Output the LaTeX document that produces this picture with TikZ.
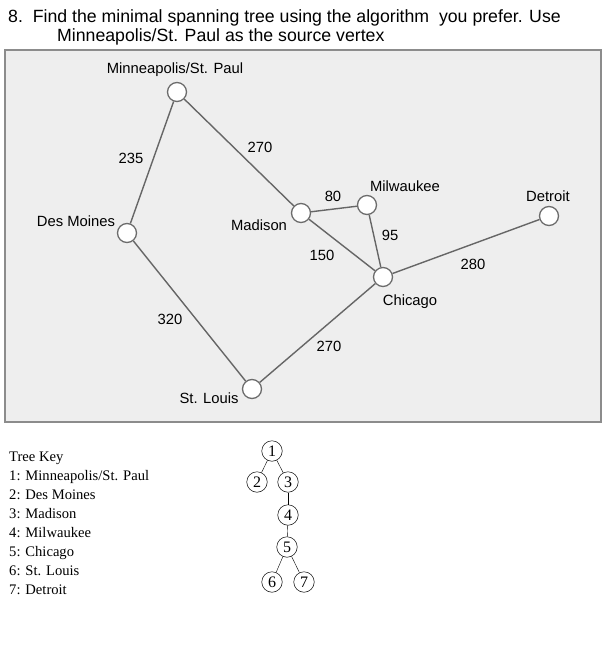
\documentclass[tikz,border=0pt]{standalone}
\usepackage{fontspec}
\setmainfont{Liberation Serif}
\newfontfamily\arialfont{Liberation Sans}
\usetikzlibrary{positioning}

\begin{document}
\begin{tikzpicture}[
						x=1pt, y=-1pt,
						city/.style = {draw=gray!85!black, fill=white, circle, line width=1.3pt, minimum size=19pt, inner sep=0pt},
						road/.style = {draw=gray!80!black, line width=1.4pt},
						lbl/.style = {font=\arialfont\fontsize{14.8}{16}\selectfont, inner sep=0pt},
						wt/.style = {font=\arialfont\fontsize{14.8}{16}\selectfont, inner sep=0pt},
						tnode/.style = {draw, circle, line width=0.5pt, minimum size=20.5pt, inner sep=0pt, font=\fontsize{16}{18}\selectfont},
						keyline/.style = {anchor=base west, inner sep=0pt, font=\fontsize{14.6}{16}\selectfont}
					]
\useasboundingbox (0,0) rectangle (603,665);

% title
\node[anchor=base west, inner sep=0pt, font=\arialfont\fontsize{17.7}{20}\selectfont] (title1) at (8,22) {8.\ \ Find the minimal spanning tree using the algorithm\ \ you prefer. Use};
\node[anchor=base west, inner sep=0pt, font=\arialfont\fontsize{17.7}{20}\selectfont] (title2) at (57,41) {Minneapolis/St. Paul as the source vertex};

% map
\node[draw=gray!90, line width=2pt, fill=gray!13, minimum width=596pt, minimum height=372pt, inner sep=0pt, anchor=north west] (map) at (4,49) {};

\node[city] (msp) at (177,92) {};
\node[city] (dm) at (127,233) {};
\node[city] (mad) at (301,213) {};
\node[city] (mil) at (367,205) {};
\node[city] (chi) at (383,277) {};
\node[city] (det) at (549,216) {};
\node[city] (stl) at (252,389) {};

\draw[road] (msp) -- (dm);
\draw[road] (msp) -- (mad);
\draw[road] (dm) -- (stl);
\draw[road] (mad) -- (mil);
\draw[road] (mad) -- (chi);
\draw[road] (mil) -- (chi);
\draw[road] (chi) -- (det);
\draw[road] (chi) -- (stl);

\node[lbl] (lmsp) at (175,70) {Minneapolis/St. Paul};
\node[lbl] (ldm) at (76,221) {Des Moines};
\node[lbl] (lmad) at (259,225) {Madison};
\node[lbl] (lmil) at (405,186) {Milwaukee};
\node[lbl] (lchi) at (410,302) {Chicago};
\node[lbl] (ldet) at (548,196) {Detroit};
\node[lbl] (lstl) at (209,398) {St. Louis};

\node[wt] (w235) at (131,158) {235};
\node[wt] (w270a) at (260,147) {270};
\node[wt] (w80) at (333,196) {80};
\node[wt] (w95) at (390,235) {95};
\node[wt] (w150) at (322,255) {150};
\node[wt] (w280) at (473,264) {280};
\node[wt] (w320) at (170,319) {320};
\node[wt] (w270b) at (329,346) {270};

% tree key
\node[keyline] (k0) at (9,461) {Tree Key};
\node[keyline] (k1) at (9,480) {1: Minneapolis/St. Paul};
\node[keyline] (k2) at (9,499) {2: Des Moines};
\node[keyline] (k3) at (9,518) {3: Madison};
\node[keyline] (k4) at (9,537) {4: Milwaukee};
\node[keyline] (k5) at (9,556) {5: Chicago};
\node[keyline] (k6) at (9,575) {6: St. Louis};
\node[keyline] (k7) at (9,594) {7: Detroit};

% tree
\node[tnode] (1) at (272,451) {1};
\node[tnode] (2) at (257,482) {2};
\node[tnode] (3) at (288,482) {3};
\node[tnode] (4) at (288,515) {4};
\node[tnode] (5) at (287,547) {5};
\node[tnode] (6) at (272,582) {6};
\node[tnode] (7) at (304,582) {7};

\draw (1) -- (2);
\draw (1) -- (3);
\draw (3) -- (4);
\draw (4) -- (5);
\draw (5) -- (6);
\draw (5) -- (7);
\end{tikzpicture}
\end{document}
